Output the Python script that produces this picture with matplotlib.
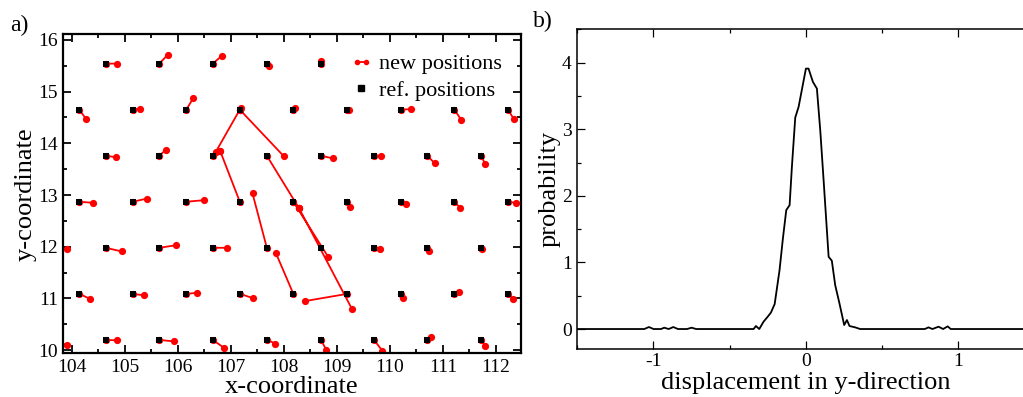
import numpy as np
import matplotlib
matplotlib.use("Agg")
import matplotlib.pyplot as plt
from matplotlib.lines import Line2D
from matplotlib.legend_handler import HandlerLine2D
from matplotlib.ticker import MultipleLocator

plt.rcParams['font.family'] = ['Liberation Serif', 'DejaVu Serif']
plt.rcParams['axes.unicode_minus'] = False

# --- panel a: reference lattice rows (y) and x positions per row
row_y = [15.54, 14.65, 13.76, 12.87, 11.98, 11.09, 10.20]
ref_x = [
    [104.64, 105.65, 106.66, 107.68, 108.70],
    [104.14, 105.15, 106.16, 107.17, 108.18, 109.20, 110.21, 111.22, 112.23],
    [104.64, 105.65, 106.66, 107.68, 108.70, 109.70, 110.71, 111.72],
    [104.14, 105.15, 106.16, 107.17, 108.18, 109.20, 110.21, 111.22, 112.23],
    [103.63, 104.64, 105.65, 106.66, 107.68, 108.70, 109.70, 110.71, 111.72],
    [104.14, 105.15, 106.16, 107.17, 108.18, 109.20, 110.21, 111.22, 112.23],
    [103.63, 104.64, 105.65, 106.66, 107.68, 108.70, 109.70, 110.71, 111.72],
]
nan = np.nan
# new positions belonging to each reference site (nan = no short link)
new_x = [
    [104.86, 105.81, 106.83, 107.73, 108.70],
    [104.27, 105.28, 106.29, 107.20, 108.21, 109.23, 110.40, 111.35, 112.34],
    [104.84, 105.77, 106.80, nan, 108.92, 109.84, 110.85, 111.80],
    [104.40, 105.41, 106.49, nan, 108.29, 109.24, 110.30, 111.33, 112.38],
    [103.91, 104.94, 105.97, 106.92, nan, nan, 109.82, 110.74, 111.74],
    [104.35, 105.37, 106.37, 107.41, nan, nan, 110.24, 111.30, 112.33],
    [103.91, 104.86, 105.93, 106.88, 107.84, 108.80, 109.86, 110.78, 111.80],
]
new_y = [
    [15.54, 15.71, 15.69, 15.49, 15.59],
    [14.47, 14.67, 14.87, 14.68, 14.68, 14.65, 14.66, 14.45, 14.47],
    [13.73, 13.87, 13.85, nan, 13.71, 13.76, 13.61, 13.60],
    [12.85, 12.93, 12.90, nan, 12.74, 12.77, 12.82, 12.75, 12.85],
    [11.95, 11.91, 12.03, 11.98, nan, nan, 11.95, 11.91, 11.95],
    [10.99, 11.06, 11.11, 11.01, nan, nan, 11.01, 11.12, 10.99],
    [10.10, 10.19, 10.17, 10.04, 10.13, 10.01, 9.99, 10.25, 10.09],
]
# long displacement links
long_x0 = [107.17, 107.17, 106.80, 107.68, 107.41, 108.18, 108.29, 107.85, 108.40]
long_y0 = [14.65, 14.65, 13.85, 13.76, 13.03, 12.87, 12.74, 11.88, 10.95]
long_x1 = [106.72, 108.00, 107.17, 108.29, 107.68, 108.84, 109.29, 108.18, 109.20]
long_y1 = [13.84, 13.75, 12.87, 12.74, 11.98, 11.80, 10.79, 11.09, 11.09]

# --- panel b: displacement distribution
disp = [-1.5, -1.06, -1.03, -1.0, -0.95, -0.93, -0.9, -0.87, -0.84, -0.78, -0.75, -0.72,
        -0.343, -0.328, -0.306, -0.278, -0.256, -0.23, -0.205, -0.173, -0.151, -0.129,
        -0.107, -0.092, -0.07, -0.048, 0.0, 0.017, 0.046, 0.072, 0.094, 0.116, 0.149,
        0.17, 0.192, 0.22, 0.251, 0.269, 0.286, 0.323, 0.356, 0.78, 0.804, 0.83, 0.87,
        0.9, 0.93, 0.95, 1.5]
prob = [0.0, 0.0, 0.03, 0.0, 0.0, 0.02, 0.0, 0.03, 0.0, 0.0, 0.02, 0.0,
        0.0, 0.045, 0.0, 0.11, 0.17, 0.245, 0.375, 0.885, 1.36, 1.785,
        1.86, 2.435, 3.175, 3.335, 3.91, 3.91, 3.71, 3.61, 2.985, 2.235, 1.085,
        1.025, 0.66, 0.385, 0.06, 0.135, 0.045, 0.025, 0.0, 0.0, 0.025, 0.0, 0.035,
        0.0, 0.04, 0.0, 0.0]

fig = plt.figure(figsize=(10.23, 3.97), dpi=100)
ax = fig.add_axes([0.0619, 0.110, 0.4471, 0.804])
bx = fig.add_axes([0.5643, 0.1209, 0.447, 0.8053])

# red links: ref -> new
sx, sy = [], []
for y, xs, nx, ny in zip(row_y, ref_x, new_x, new_y):
    for rx, a, b in zip(xs, nx, ny):
        if not np.isnan(a):
            sx += [rx, a, nan]
            sy += [y, b, nan]
for x0, y0, x1, y1 in zip(long_x0, long_y0, long_x1, long_y1):
    sx += [x0, x1, nan]
    sy += [y0, y1, nan]
ax.plot(sx, sy, '-o', color='red', lw=1.3, ms=5.2, mew=0)

rx_all = [x for xs in ref_x for x in xs]
ry_all = [y for y, xs in zip(row_y, ref_x) for x in xs]
ax.plot(rx_all, ry_all, 's', color='black', ms=4.8, mew=0)

ax.set_xlim(103.84, 112.47)
ax.set_ylim(9.94, 16.11)
ax.xaxis.set_major_locator(MultipleLocator(1))
ax.xaxis.set_minor_locator(MultipleLocator(0.5))
ax.yaxis.set_major_locator(MultipleLocator(1))
ax.yaxis.set_minor_locator(MultipleLocator(0.5))
ax.set_xlabel('x-coordinate', fontsize=19, labelpad=0)
ax.set_ylabel('y-coordinate', fontsize=19, labelpad=1)

h_new = Line2D([], [], color='red', lw=1.3, marker='o', ms=3)
h_ref = Line2D([], [], color='black', ls='none', marker='s', ms=4.5)
ax.legend([h_new, h_ref], ['new positions', 'ref. positions'],
          handler_map={h_new: HandlerLine2D(numpoints=2), h_ref: HandlerLine2D(numpoints=1)},
          loc='upper right', bbox_to_anchor=(0.978, 0.966), fontsize=16,
          frameon=True, facecolor='white', edgecolor='none', framealpha=1,
          handlelength=1.0, handletextpad=0.3, labelspacing=0.25, borderpad=0.2,
          borderaxespad=0.2, fancybox=False)

bx.plot(disp, prob, color='black', lw=1.3)
bx.set_xlim(-1.5, 1.5)
bx.set_ylim(-0.3, 4.5)
bx.xaxis.set_major_locator(MultipleLocator(1))
bx.xaxis.set_minor_locator(MultipleLocator(0.5))
bx.yaxis.set_major_locator(MultipleLocator(1))
bx.yaxis.set_minor_locator(MultipleLocator(0.5))
bx.set_xlabel('displacement in y-direction', fontsize=19, labelpad=1)
bx.set_ylabel('probability', fontsize=19, labelpad=1)

for a, lw in ((ax, 1.6), (bx, 1.1)):
    for s in a.spines.values():
        s.set_linewidth(lw)
    a.tick_params(which='both', direction='in', top=True, right=True,
                  labelsize=14, width=lw * 0.8)
    a.tick_params(which='major', length=6, pad=4)
    a.tick_params(which='minor', length=3)
bx.tick_params(axis='x', which='major', pad=3)

fig.text(0.0186, 0.935, 'a)', fontsize=17, ha='center', va='center')
fig.text(0.531, 0.945, 'b)', fontsize=17, ha='center', va='center')

fig.savefig('out.png', dpi=100)
